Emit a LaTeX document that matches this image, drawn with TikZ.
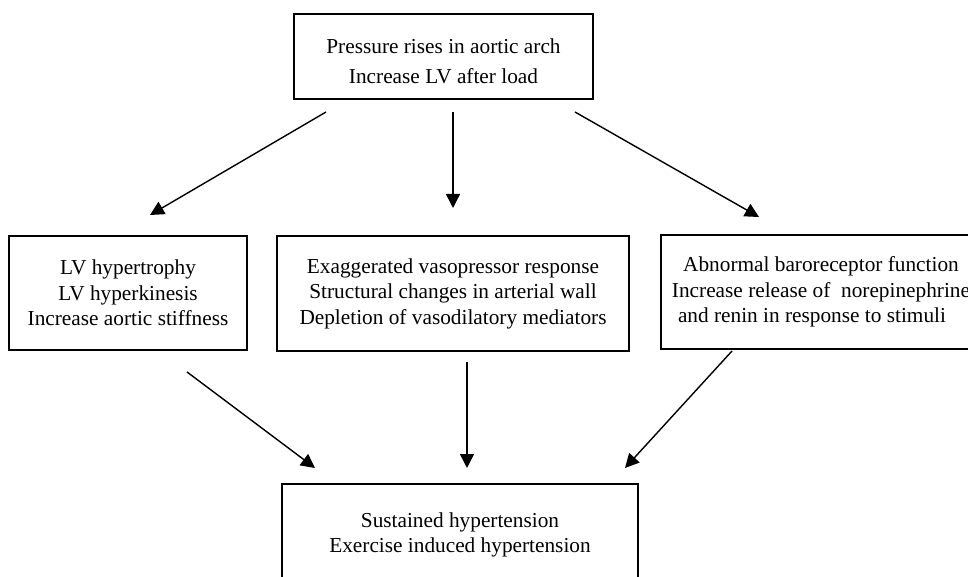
\documentclass[tikz,border=0pt]{standalone}
\usepackage{fontspec}
\setmainfont{Liberation Serif}
\usetikzlibrary{arrows.meta}
\begin{document}
\begin{tikzpicture}[x=1pt,y=-1pt,
  box/.style={draw, line width=1.7pt, align=center, inner sep=0pt,
    font=\fontsize{21.3}{25.5}\selectfont},
  flow/.style={line width=1.4pt, -{Triangle[length=14pt,width=14pt]}}]
\useasboundingbox (0,0) rectangle (968,577);
\clip (0,0) rectangle (968,577);

% boxes
\node[box, minimum width=299pt, minimum height=85pt,
  font=\fontsize{21.3}{30}\selectfont] (top) at (443.5,56.5)
  {\rule{0pt}{24pt}Pressure rises in aortic arch\\Increase LV after load};
\node[box, minimum width=238pt, minimum height=114pt] (lv) at (128,293)
  {LV hypertrophy\\LV hyperkinesis\\Increase aortic stiffness};
\node[box, minimum width=352pt, minimum height=115pt] (vaso) at (453,293.5)
  {Exaggerated vasopressor response\\Structural changes in arterial wall\\Depletion of vasodilatory mediators};
\node[box, minimum width=320pt, minimum height=114pt] (baro) at (821,292)
  {Abnormal baroreceptor function\\Increase release of\ \ norepinephrine\\and renin in response to stimuli\hspace*{18pt}};
\node[box, minimum width=356pt, minimum height=102pt] (htn) at (460,535)
  {Sustained hypertension\\Exercise induced hypertension};

% arrow end points
\coordinate (t1) at (326,112);  \coordinate (h1) at (150,215);
\coordinate (t2) at (453,112);  \coordinate (h2) at (453,208);
\coordinate (t3) at (575,112);  \coordinate (h3) at (759,217);
\coordinate (t4) at (187,372);  \coordinate (h4) at (315,468);
\coordinate (t5) at (467,362);  \coordinate (h5) at (467,468);
\coordinate (t6) at (732,351);  \coordinate (h6) at (625,468);

% arrows
\draw[flow] (t1) -- (h1);
\draw[flow] (t2) -- (h2);
\draw[flow] (t3) -- (h3);
\draw[flow] (t4) -- (h4);
\draw[flow] (t5) -- (h5);
\draw[flow] (t6) -- (h6);
\end{tikzpicture}
\end{document}
